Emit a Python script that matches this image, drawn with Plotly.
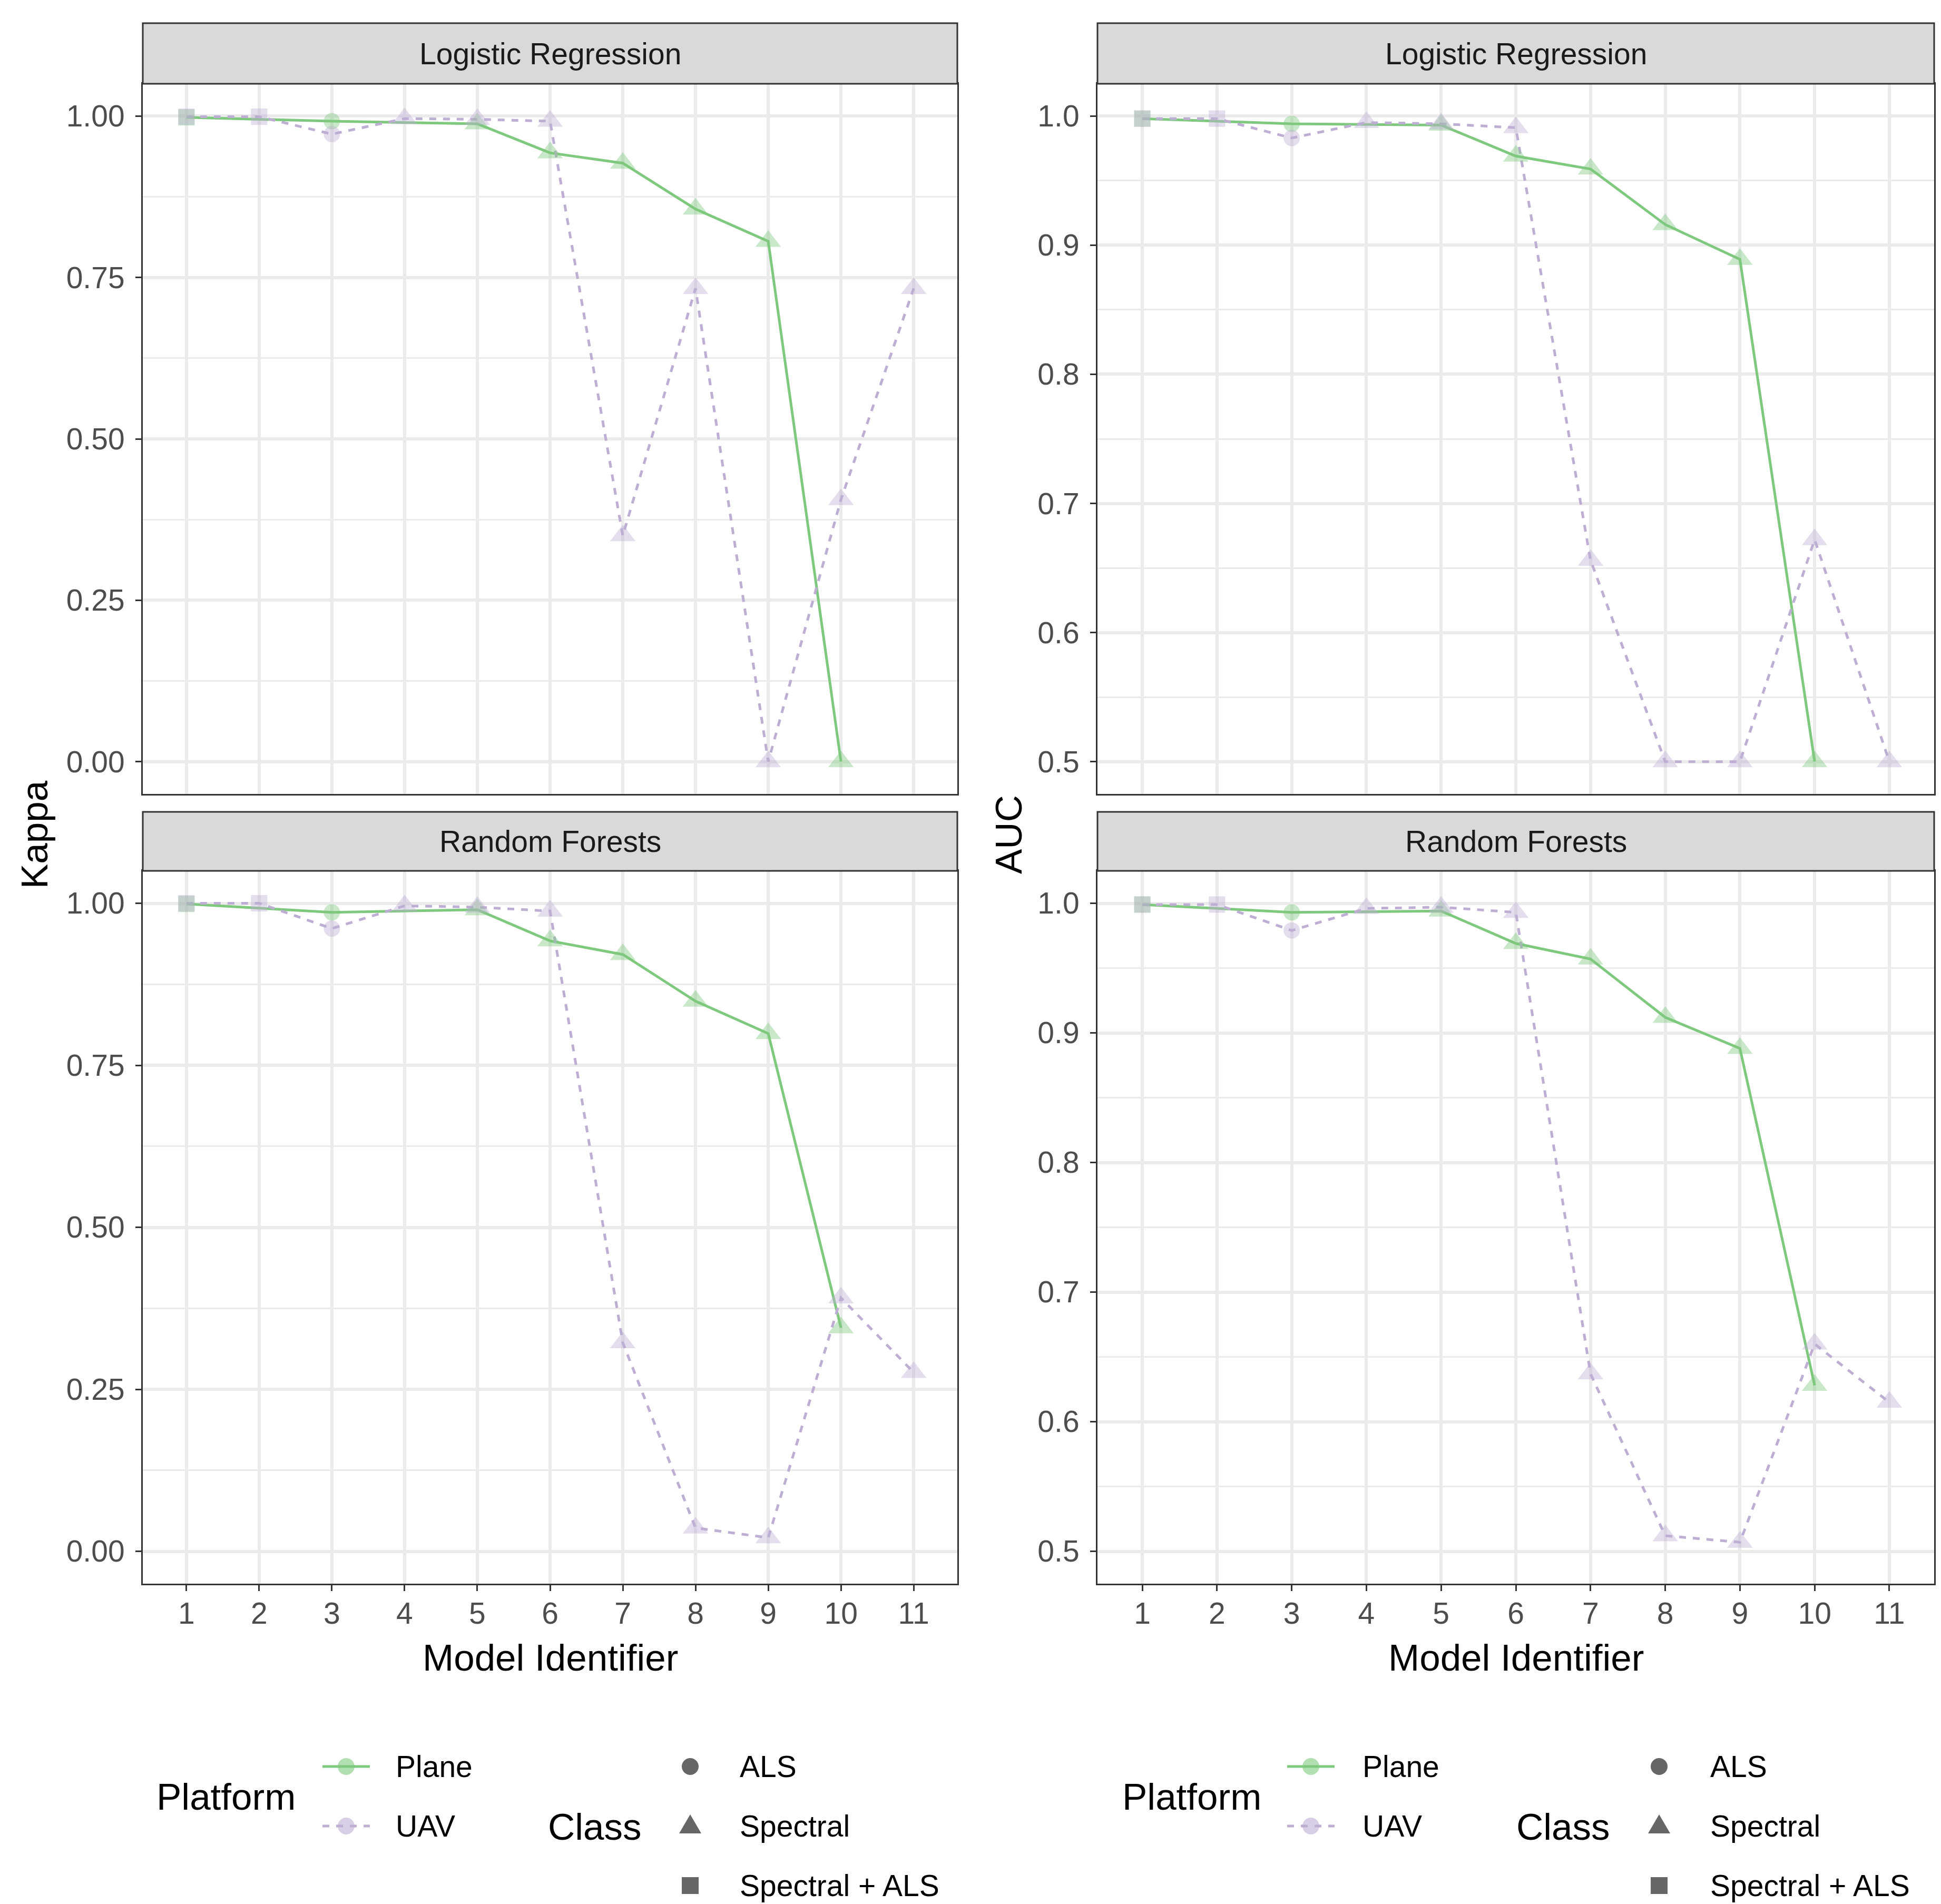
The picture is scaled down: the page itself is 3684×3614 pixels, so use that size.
import plotly.graph_objects as go

# ---------------- data ----------------
plane_models = [1, 3, 5, 6, 7, 8, 9, 10]
plane_class = ["Spectral + ALS", "ALS", "Spectral", "Spectral", "Spectral", "Spectral", "Spectral", "Spectral"]
uav_models = [1, 2, 3, 4, 5, 6, 7, 8, 9, 10, 11]
uav_class = ["Spectral + ALS", "Spectral + ALS", "ALS", "Spectral", "Spectral", "Spectral",
             "Spectral", "Spectral", "Spectral", "Spectral", "Spectral"]

kappa_lr_plane = [0.998, 0.992, 0.988, 0.943, 0.927, 0.856, 0.806, 0.000]
kappa_lr_uav = [0.999, 0.999, 0.972, 0.996, 0.995, 0.992, 0.350, 0.733, 0.000, 0.406, 0.733]
auc_lr_plane = [0.998, 0.994, 0.993, 0.969, 0.959, 0.916, 0.889, 0.500]
auc_lr_uav = [0.998, 0.998, 0.983, 0.995, 0.994, 0.991, 0.656, 0.500, 0.500, 0.672, 0.500]
kappa_rf_plane = [0.999, 0.986, 0.990, 0.942, 0.921, 0.849, 0.799, 0.345]
kappa_rf_uav = [1.000, 1.000, 0.961, 0.996, 0.994, 0.988, 0.322, 0.036, 0.021, 0.391, 0.276]
auc_rf_plane = [0.999, 0.993, 0.994, 0.969, 0.957, 0.912, 0.888, 0.628]
auc_rf_uav = [0.999, 0.999, 0.979, 0.996, 0.997, 0.993, 0.637, 0.512, 0.507, 0.660, 0.615]

x_ticks = list(range(1, 12))
kappa_ticks = [0.0, 0.25, 0.5, 0.75, 1.0]
kappa_labels = ["0.00", "0.25", "0.50", "0.75", "1.00"]
kappa_minor = [0.125, 0.375, 0.625, 0.875]
auc_ticks = [0.5, 0.6, 0.7, 0.8, 0.9, 1.0]
auc_labels = ["0.5", "0.6", "0.7", "0.8", "0.9", "1.0"]
auc_minor = [0.55, 0.65, 0.75, 0.85, 0.95]

strip_titles = ["Logistic Regression", "Random Forests"]
platforms = ["Plane", "UAV"]
classes = ["ALS", "Spectral", "Spectral + ALS"]

# ---------------- style ----------------
W, H = 3684, 3614
FONT = "Liberation Sans, Arial, sans-serif"
GREEN = "#7FC97F"
PURPLE = "#BEAED4"
GREEN_A = "rgba(127,201,127,0.6)"
PURPLE_A = "rgba(190,174,212,0.6)"
DASH = "13px,13px"
SYMBOL = {"ALS": "circle", "Spectral": "triangle-up", "Spectral + ALS": "square"}
SIZE = {"ALS": 31, "Spectral": 42, "Spectral + ALS": 31}


def px(x):
    return x / W


def py(y):
    return 1 - y / H


cols = [(263, 1809), (2075, 3663)]
rows = [(151, 1499), (1645, 2998)]
strips = [(36, 151), (1533, 1645)]

fig = go.Figure()

panels = [
    # (row, col, plane values, uav values)
    (0, 0, kappa_lr_plane, kappa_lr_uav),
    (0, 1, auc_lr_plane, auc_lr_uav),
    (1, 0, kappa_rf_plane, kappa_rf_uav),
    (1, 1, auc_rf_plane, auc_rf_uav),
]

for idx, (r, c, pv, uv) in enumerate(panels):
    n = idx + 1
    xa = "x" if n == 1 else f"x{n}"
    ya = "y" if n == 1 else f"y{n}"
    series = [
        (plane_models, pv, plane_class, GREEN, GREEN_A, "solid"),
        (uav_models, uv, uav_class, PURPLE, PURPLE_A, DASH),
    ]
    for models, vals, cls, col, cola, dash in series:
        fig.add_trace(go.Scatter(
            x=models, y=vals, xaxis=xa, yaxis=ya, mode="lines",
            line=dict(color=col, width=5, dash=dash), showlegend=False, hoverinfo="skip"))
    for models, vals, cls, col, cola, dash in series:
        fig.add_trace(go.Scatter(
            x=models, y=vals, xaxis=xa, yaxis=ya, mode="markers",
            marker=dict(color=cola, symbol=[SYMBOL[k] for k in cls],
                        size=[SIZE[k] for k in cls], line=dict(width=0)),
            showlegend=False))

    is_kappa = (c == 0)
    xd = [px(cols[c][0]), px(cols[c][1])]
    yd = [py(rows[r][1]), py(rows[r][0])]
    axis_common = dict(showline=True, mirror=True, linecolor="#333333", linewidth=3,
                       showgrid=True, gridcolor="#EBEBEB", gridwidth=6, zeroline=False,
                       automargin=False)
    fig.layout[f"xaxis{'' if n == 1 else n}"] = dict(
        domain=xd, anchor=ya, range=[0.4, 11.6], tickmode="array", tickvals=x_ticks,
        ticktext=[str(v) for v in x_ticks],
        showticklabels=(r == 1), ticks="outside" if r == 1 else "",
        ticklen=11, tickwidth=3, tickcolor="#333333", ticklabelstandoff=-6,
        tickfont=dict(family=FONT, size=57, color="#4D4D4D"), **axis_common)
    fig.layout[f"yaxis{'' if n == 1 else n}"] = dict(
        domain=yd, anchor=xa,
        range=[-0.05, 1.05] if is_kappa else [0.475, 1.025],
        tickmode="array",
        tickvals=kappa_ticks if is_kappa else auc_ticks,
        ticktext=kappa_labels if is_kappa else auc_labels,
        ticks="outside", ticklen=11, tickwidth=3, tickcolor="#333333", ticklabelstandoff=9,
        tickfont=dict(family=FONT, size=57, color="#4D4D4D"),
        minor=dict(tickvals=kappa_minor if is_kappa else auc_minor, showgrid=True,
                   gridcolor="#EBEBEB", gridwidth=3, ticks=""),
        **axis_common)

shapes = []
annotations = []

# facet strips
for r in range(2):
    for c in range(2):
        shapes.append(dict(type="rect", xref="paper", yref="paper",
                           x0=px(cols[c][0]), x1=px(cols[c][1]),
                           y0=py(strips[r][1]), y1=py(strips[r][0]),
                           fillcolor="#D9D9D9", line=dict(color="#333333", width=3)))
        annotations.append(dict(text=strip_titles[r], xref="paper", yref="paper",
                                x=px((cols[c][0] + cols[c][1]) / 2),
                                y=py((strips[r][0] + strips[r][1]) / 2),
                                showarrow=False, xanchor="center", yanchor="middle",
                                font=dict(family=FONT, size=57, color="#1A1A1A")))

# axis titles
for c, t, xx in [(0, "Kappa", 57), (1, "AUC", 1906)]:
    annotations.append(dict(text=t, xref="paper", yref="paper", x=px(xx), y=py(1576),
                            textangle=-90, showarrow=False, xanchor="center", yanchor="middle",
                            font=dict(family=FONT, size=71, color="black")))
    annotations.append(dict(text="Model Identifier", xref="paper", yref="paper",
                            x=px((cols[c][0] + cols[c][1]) / 2), y=py(3138),
                            showarrow=False, xanchor="center", yanchor="middle",
                            font=dict(family=FONT, size=71, color="black")))

# legends (one per column)
legend_pos = [
    dict(plat_x=421, key_x=649, ptxt=741, class_x=1121, mk_x=1302, ctxt=1394),
    dict(plat_x=2254, key_x=2480, ptxt=2576, class_x=2959, mk_x=3141, ctxt=3236),
]
row_y = [3345, 3458, 3571]
plat_title_y = 3402
class_title_y = 3459
for lp in legend_pos:
    annotations.append(dict(text="Platform", xref="paper", yref="paper", x=px(lp["plat_x"]),
                            y=py(plat_title_y), showarrow=False, xanchor="center", yanchor="middle",
                            font=dict(family=FONT, size=71, color="black")))
    annotations.append(dict(text="Class", xref="paper", yref="paper", x=px(lp["class_x"]),
                            y=py(class_title_y), showarrow=False, xanchor="center", yanchor="middle",
                            font=dict(family=FONT, size=71, color="black")))
    for i, (name, col, cola, dash) in enumerate([(platforms[0], GREEN, GREEN_A, "solid"),
                                                 (platforms[1], PURPLE, PURPLE_A, DASH)]):
        yy = row_y[i]
        kx = lp["key_x"]
        shapes.append(dict(type="circle", xref="paper", yref="paper",
                           x0=px(kx - 16), x1=px(kx + 16), y0=py(yy + 16), y1=py(yy - 16),
                           fillcolor=cola, line=dict(width=0)))
        shapes.append(dict(type="line", xref="paper", yref="paper",
                           x0=px(kx - 45), x1=px(kx + 45), y0=py(yy), y1=py(yy),
                           line=dict(color=col, width=5, dash=dash)))
        annotations.append(dict(text=name, xref="paper", yref="paper", x=px(lp["ptxt"]),
                                y=py(yy), showarrow=False, xanchor="left", yanchor="middle",
                                font=dict(family=FONT, size=57, color="black")))
    for i, cl in enumerate(classes):
        yy = row_y[i]
        mx = lp["mk_x"]
        if cl == "ALS":
            shapes.append(dict(type="circle", xref="paper", yref="paper",
                               x0=px(mx - 16), x1=px(mx + 16), y0=py(yy + 16), y1=py(yy - 16),
                               fillcolor="#666666", line=dict(width=0)))
        elif cl == "Spectral":
            p = "M {} {} L {} {} L {} {} Z".format(px(mx - 21), py(yy + 14), px(mx + 21), py(yy + 14),
                                                 px(mx), py(yy - 22))
            shapes.append(dict(type="path", xref="paper", yref="paper", path=p,
                               fillcolor="#666666", line=dict(width=0)))
        else:
            shapes.append(dict(type="rect", xref="paper", yref="paper",
                               x0=px(mx - 16), x1=px(mx + 16), y0=py(yy + 16), y1=py(yy - 16),
                               fillcolor="#666666", line=dict(width=0)))
        annotations.append(dict(text=cl, xref="paper", yref="paper", x=px(lp["ctxt"]),
                                y=py(yy), showarrow=False, xanchor="left", yanchor="middle",
                                font=dict(family=FONT, size=57, color="black")))

fig.update_layout(
    width=W, height=H, margin=dict(l=0, r=0, t=0, b=0),
    paper_bgcolor="white", plot_bgcolor="white", showlegend=False,
    shapes=shapes, annotations=annotations,
    font=dict(family=FONT),
)

fig.write_html("out.html")
